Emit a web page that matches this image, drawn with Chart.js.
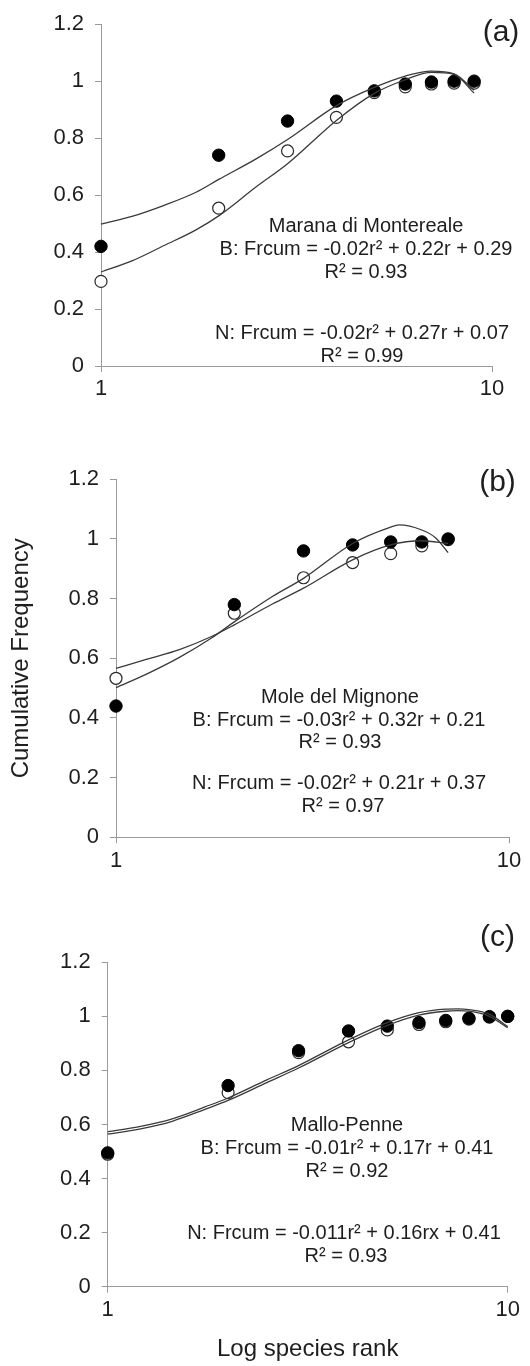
<!DOCTYPE html>
<html lang="en">
<head>
<meta charset="UTF-8">
<title>Cumulative frequency vs log species rank</title>
<style>
  html, body { margin: 0; padding: 0; background: #fff; }
  #figure { position: relative; width: 530px; height: 1366px; }
  #figure canvas { position: absolute; left: 0; }
</style>
</head>
<body>
<div id="figure">
  <canvas id="panelA" width="530" height="440" style="top:0px"></canvas>
  <canvas id="panelB" width="530" height="460" style="top:440px"></canvas>
  <canvas id="panelC" width="530" height="466" style="top:900px"></canvas>
</div>

<script src="https://cdn.jsdelivr.net/npm/chart.js"></script>
<script>
  // ---- data ----
  const yTickLabels = ['0', '0.2', '0.4', '0.6', '0.8', '1', '1.2'];
  const xTickValues = [1, 10];
  const xTickLabels = ['1', '10'];

  const panelLabels = ['(a)', '(b)', '(c)'];
  const siteNames = ['Marana di Montereale', 'Mole del Mignone', 'Mallo-Penne'];
  const eqB = ['B: Frcum = -0.02r\u00b2 + 0.22r + 0.29', 'B: Frcum = -0.03r\u00b2 + 0.32r + 0.21', 'B: Frcum = -0.01r\u00b2 + 0.17r + 0.41'];
  const r2B = ['R\u00b2 = 0.93', 'R\u00b2 = 0.93', 'R\u00b2 = 0.92'];
  const eqN = ['N: Frcum = -0.02r\u00b2 + 0.27r + 0.07', 'N: Frcum = -0.02r\u00b2 + 0.21r + 0.37', 'N: Frcum = -0.011r\u00b2 + 0.16rx + 0.41'];
  const r2N = ['R\u00b2 = 0.99', 'R\u00b2 = 0.97', 'R\u00b2 = 0.93'];

  // (a) Marana di Montereale
  const ranksA = [1, 2, 3, 4, 5, 6, 7, 8, 9];
  const freqBA = [0.42, 0.74, 0.86, 0.93, 0.966, 0.99, 0.997, 1.0, 1.0];
  const freqNA = [0.297, 0.554, 0.755, 0.873, 0.96, 0.98, 0.99, 0.993, 0.993];
  const fitRanksA = [1, 1.2, 1.45, 1.75, 2, 2.5, 3, 4, 5, 6, 7, 8, 9];
  const fitBA = [0.498, 0.525, 0.564, 0.61, 0.655, 0.728, 0.795, 0.914, 0.978, 1.018, 1.035, 1.026, 0.968];
  const fitNA = [0.33, 0.369, 0.423, 0.478, 0.527, 0.63, 0.71, 0.862, 0.957, 1.005, 1.031, 1.024, 0.958];

  // (b) Mole del Mignone
  const ranksB = [1, 2, 3, 4, 5, 6, 7];
  const freqBB = [0.44, 0.78, 0.96, 0.98, 0.99, 0.99, 1.0];
  const freqNB = [0.533, 0.751, 0.87, 0.921, 0.951, 0.977, 0.998];
  const fitRanksBB = [1, 1.2, 1.45, 1.75, 2, 2.5, 3, 4, 5, 5.25, 6, 6.5, 7];
  const fitBB = [0.502, 0.548, 0.603, 0.668, 0.722, 0.807, 0.868, 0.985, 1.04, 1.047, 1.03, 1.004, 0.954];
  const fitRanksNB = [1, 1.2, 1.45, 1.75, 2, 2.5, 3, 4, 5, 6, 7];
  const fitNB = [0.566, 0.597, 0.629, 0.673, 0.712, 0.782, 0.835, 0.93, 0.98, 0.994, 0.985];

  // (c) Mallo-Penne
  const ranksC = [1, 2, 3, 4, 5, 6, 7, 8, 9, 10];
  const freqBC = [0.495, 0.744, 0.873, 0.946, 0.964, 0.977, 0.985, 0.993, 0.999, 1.0];
  const freqNC = [0.49, 0.718, 0.866, 0.906, 0.95, 0.97, 0.98, 0.99, 0.997, 1.0];
  const fitRanksC = [1, 1.2, 1.45, 1.75, 2, 2.5, 3, 4, 5, 6, 7, 7.5, 8, 9, 10];
  const fitBC = [0.573, 0.592, 0.621, 0.665, 0.698, 0.765, 0.818, 0.913, 0.977, 1.014, 1.027, 1.028, 1.025, 1.008, 0.962];
  const fitNC = [0.564, 0.583, 0.612, 0.656, 0.689, 0.755, 0.809, 0.903, 0.967, 1.005, 1.019, 1.021, 1.019, 1.0, 0.958];

  // ---- styling / layout ----
  const FONT = "'Liberation Sans', Arial, sans-serif";
  const axisGray = '#9a9a9a';
  const textColor = '#1e1e1e';

  // draws the panel letter and the fit equations
  const textLayer = {
    id: 'textLayer',
    afterDraw(chart, args, opts) {
      const ctx = chart.ctx;
      ctx.save();
      ctx.fillStyle = textColor;
      ctx.textAlign = 'center';
      ctx.textBaseline = 'alphabetic';
      opts.lines.forEach(l => {
        ctx.font = l.size + 'px ' + FONT;
        ctx.fillText(l.text, l.x, l.y);
      });
      ctx.restore();
    }
  };

  function pts(xs, ys) {
    return xs.map((x, i) => ({ x: x, y: ys[i] }));
  }

  function buildPanel(id, i, d, lay) {
    const fitStyle = {
      borderColor: '#3a3a3a', borderWidth: 1.3, pointRadius: 0, pointHoverRadius: 0,
      cubicInterpolationMode: 'monotone', fill: false, clip: false
    };
    const lines = [
      { text: panelLabels[i], x: lay.label[0], y: lay.label[1], size: 30 },
      { text: siteNames[i], x: lay.txt[0][0], y: lay.txt[0][1], size: 20 },
      { text: eqB[i], x: lay.txt[1][0], y: lay.txt[1][1], size: 20 },
      { text: r2B[i], x: lay.txt[2][0], y: lay.txt[2][1], size: 20 },
      { text: eqN[i], x: lay.txt[3][0], y: lay.txt[3][1], size: 20 },
      { text: r2N[i], x: lay.txt[4][0], y: lay.txt[4][1], size: 20 }
    ];

    return new Chart(document.getElementById(id), {
      type: 'line',
      data: {
        datasets: [
          Object.assign({ label: 'B fit', data: pts(d.fitRanksB, d.fitB), order: 0 }, fitStyle),
          Object.assign({ label: 'N fit', data: pts(d.fitRanksN, d.fitN), order: 1 }, fitStyle),
          {
            label: 'B', data: pts(d.ranks, d.b), showLine: false, order: 2, clip: false,
            pointRadius: 6.2, pointHoverRadius: 6.2,
            pointBackgroundColor: '#000', pointBorderColor: '#000', pointBorderWidth: 1
          },
          {
            label: 'N', data: pts(d.ranks, d.n), showLine: false, order: 3, clip: false,
            pointRadius: 6, pointHoverRadius: 6,
            pointBackgroundColor: '#fff', pointBorderColor: '#2a2a2a', pointBorderWidth: 1.2
          }
        ]
      },
      options: {
        responsive: false,
        animation: false,
        events: [],
        layout: { padding: { left: 0, top: lay.area.top, right: 530 - lay.area.right, bottom: 0 } },
        plugins: {
          legend: { display: false },
          tooltip: { enabled: false },
          textLayer: { lines: lines }
        },
        scales: {
          x: {
            type: 'logarithmic',
            min: 1,
            max: 10,
            afterBuildTicks: s => { s.ticks = xTickValues.map(v => ({ value: v })); },
            afterFit: s => { s.height = lay.h - lay.area.bottom; },
            ticks: {
              autoSkip: false, maxRotation: 0, padding: 4,
              color: textColor, font: { family: FONT, size: 22 },
              callback: (v, k) => xTickLabels[k]
            },
            grid: { drawOnChartArea: false, drawTicks: true, tickLength: 6, color: axisGray },
            border: { color: axisGray, width: 1 },
            title: {
              display: lay.xTitle, text: 'Log species rank', color: textColor,
              font: { family: FONT, size: 24 }, padding: { top: 0, bottom: 2 }
            }
          },
          y: {
            min: 0,
            max: 1.2,
            afterFit: s => { s.width = lay.area.left; },
            ticks: {
              stepSize: 0.2, padding: 11,
              color: textColor, font: { family: FONT, size: 22 },
              callback: (v, k) => yTickLabels[k]
            },
            grid: { drawOnChartArea: false, drawTicks: true, tickLength: 6, color: axisGray },
            border: { color: axisGray, width: 1 },
            title: {
              display: lay.yTitle, text: 'Cumulative Frequency', color: textColor,
              font: { family: FONT, size: 24 }, padding: { top: 7, bottom: 0 }
            }
          }
        }
      },
      plugins: [textLayer]
    });
  }

  buildPanel('panelA', 0,
    { ranks: ranksA, b: freqBA, n: freqNA, fitRanksB: fitRanksA, fitB: fitBA, fitRanksN: fitRanksA, fitN: fitNA },
    {
      h: 440, area: { left: 101, right: 492, top: 21, bottom: 366 },
      label: [501, 41],
      txt: [[366, 232], [366, 255], [366, 278], [362, 339], [362, 362]],
      xTitle: false, yTitle: false
    });

  buildPanel('panelB', 1,
    { ranks: ranksB, b: freqBB, n: freqNB, fitRanksB: fitRanksBB, fitB: fitBB, fitRanksN: fitRanksNB, fitN: fitNB },
    {
      h: 460, area: { left: 116, right: 509, top: 39.3, bottom: 397.3 },
      label: [497.5, 51],
      txt: [[340, 263], [339, 286], [340, 308], [339, 349], [343, 372]],
      xTitle: false, yTitle: true
    });

  buildPanel('panelC', 2,
    { ranks: ranksC, b: freqBC, n: freqNC, fitRanksB: fitRanksC, fitB: fitBC, fitRanksN: fitRanksC, fitN: fitNC },
    {
      h: 466, area: { left: 107.7, right: 507.7, top: 62.3, bottom: 386.7 },
      label: [497.5, 46],
      txt: [[347, 231], [347, 254], [347, 277], [344, 339], [346, 362]],
      xTitle: true, yTitle: false
    });
</script>
</body>
</html>
